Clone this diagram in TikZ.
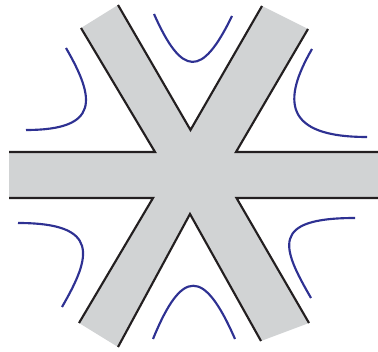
\documentclass[tikz,border=0pt]{standalone}
\usepackage{tikz}
\usepackage{xcolor}
\definecolor{bandgray}{RGB}{209,211,212}
\definecolor{edgeblack}{RGB}{35,31,32}
\definecolor{curveblue}{RGB}{46,49,146}

\begin{document}
\begin{tikzpicture}[x=0.75pt, y=-0.75pt,
  edge/.style={draw=edgeblack, line width=1.6pt},
  curve/.style={draw=curveblue, line width=1.6pt}]
\useasboundingbox (0,0) rectangle (378,352);
% corners of the star
\coordinate (ulA) at (81,28);   \coordinate (ulB) at (118,5);
\coordinate (urA) at (262,6);   \coordinate (urB) at (308,29);
\coordinate (rT)  at (378,152); \coordinate (rB)  at (378,198);
\coordinate (lrA) at (309,323); \coordinate (lrB) at (261,341);
\coordinate (llA) at (118,347); \coordinate (llB) at (79,323);
\coordinate (lB)  at (9,198);   \coordinate (lT)  at (9,152);
\coordinate (top) at (190.5,130); \coordinate (bot) at (190,214);
\coordinate (cUL) at (155,152); \coordinate (cUR) at (236,152);
\coordinate (cLL) at (153,198); \coordinate (cLR) at (236.5,198);
% gray bands
\fill[bandgray] (ulA) -- (ulB) -- (top) -- (urA) -- (urB) -- (cUR) -- (rT)
  -- (rB) -- (cLR) -- (lrA) -- (lrB) -- (bot) -- (llA) -- (llB) -- (cLL)
  -- (lB) -- (lT) -- (cUL) -- cycle;
% outlines
\draw[edge] (ulB) -- (top) -- (urA);
\draw[edge] (urB) -- (cUR) -- (rT);
\draw[edge] (rB) -- (cLR) -- (lrA);
\draw[edge] (lrB) -- (bot) -- (llA);
\draw[edge] (llB) -- (cLL) -- (lB);
\draw[edge] (lT) -- (cUL) -- (ulA);
% blue curves
\draw[curve] (66,48) .. controls (95.5,99) and (100,130) .. (26,130);
\draw[curve] (154,14) .. controls (182,77) and (202,78) .. (232,16);
\draw[curve] (312,49) .. controls (282.5,100) and (283,137) .. (367,137);
\draw[curve] (18,223) .. controls (100.5,223) and (91.5,256) .. (62,307);
\draw[curve] (153,339) .. controls (182,268) and (204,268) .. (235,339);
\draw[curve] (355,218) .. controls (270,218) and (281.5,247) .. (311,298);
\end{tikzpicture}
\end{document}
